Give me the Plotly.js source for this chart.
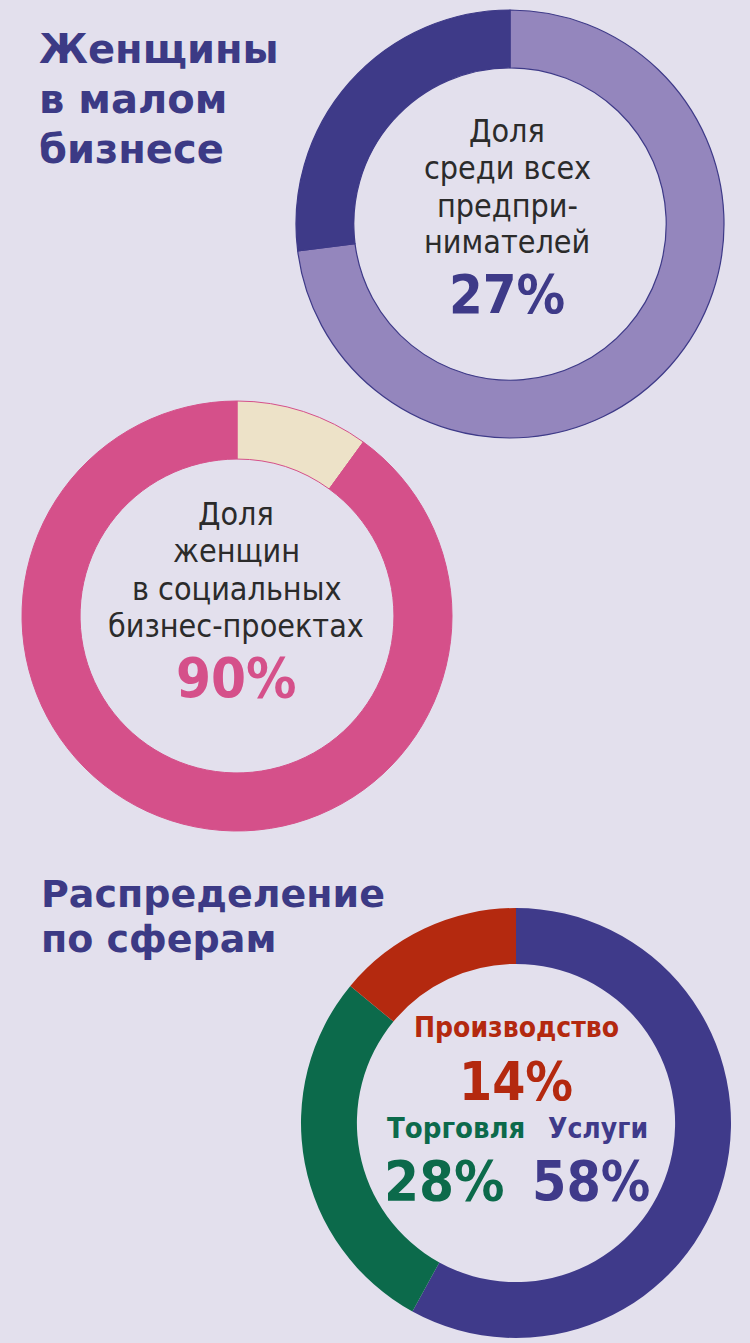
<!DOCTYPE html>
<html>
<head>
<meta charset="utf-8">
<script src="https://cdn.plot.ly/plotly-3.0.1.min.js"></script>
<style>html,body{margin:0;padding:0;background:#e3e0ed;}#chart{width:750px;height:1343px;}</style>
</head>
<body>
<div id="chart"></div>
<script>
// Data
const shareLabels = ['Мужчины', 'Женщины'];
const shareValues = [73, 27];
const socialLabels = ['Прочие', 'Женщины'];
const socialValues = [10, 90];
const sphereLabels = ['Услуги', 'Торговля', 'Производство'];
const sphereValues = [58, 28, 14];
const title1Lines = ['Женщины', 'в малом', 'бизнесе'];
const title2Lines = ['Распределение', 'по сферам'];

const W = 750, H = 1343;
const BG = '#e3e0ed';
const TFONT = 'DejaVu Sans, sans-serif';
const BFONT = 'DejaVu Sans Condensed, DejaVu Sans, sans-serif';
const px = x => x / W;
const py = y => 1 - y / H;
function dom(cx, cy, r) {
  return {x: [px(cx - r), px(cx + r)], y: [py(cy + r), py(cy - r)]};
}

const pieCommon = {type: 'pie', sort: false, textinfo: 'none', hoverinfo: 'none', showlegend: false, rotation: 0, direction: 'clockwise'};

const traces = [
  Object.assign({}, pieCommon, {
    labels: shareLabels, values: shareValues, hole: 0.73,
    domain: dom(510, 224, 214),
    marker: {colors: ['#9486bd', '#3e3a88'], line: {color: '#3e3a88', width: 1.2}}
  }),
  Object.assign({}, pieCommon, {
    labels: socialLabels, values: socialValues, hole: 0.73,
    domain: dom(237, 616, 215),
    marker: {colors: ['#ede2c8', '#d5508a'], line: {color: '#d5508a', width: 1}}
  }),
  Object.assign({}, pieCommon, {
    labels: sphereLabels, values: sphereValues, hole: 0.74,
    domain: dom(516, 1123, 215),
    marker: {colors: ['#3f3a8a', '#0c6a4b', '#b4290f'], line: {color: BG, width: 0}}
  })
];

const ann = [];
// place a single-line text by its baseline
function t(text, x, base, size, color, bold, family, anchor) {
  ann.push({text: bold ? '<b>' + text + '</b>' : text, x: px(x), y: py(base - 0.35 * size), xref: 'paper', yref: 'paper',
    xanchor: anchor || 'center', yanchor: 'middle', showarrow: false,
    font: {family: family || BFONT, size: size, color: color}});
}

const TITLE = '#3c3a85';
title1Lines.forEach((l, i) => t(l, 37, 63 + 50 * i, 40, TITLE, true, TFONT, 'left'));
title2Lines.forEach((l, i) => t(l, 39, 907 + 45 * i, 38, TITLE, true, TFONT, 'left'));

const GRAY = '#2b2b2b';
t('Доля', 507, 142, 32, GRAY, false);
t('среди всех', 507, 179, 32, GRAY, false);
t('предпри-', 507, 217, 32, GRAY, false);
t('нимателей', 507, 253, 32, GRAY, false);
t(shareValues[1] + '%', 507, 313, 54, '#3e3a88', true);

t('Доля', 236, 525, 32, GRAY, false);
t('женщин', 236, 562, 32, GRAY, false);
t('в социальных', 236, 600, 32, GRAY, false);
t('бизнес-проектах', 236, 637, 32, GRAY, false);
t(socialValues[1] + '%', 236, 697, 56, '#d5508a', true);

t(sphereLabels[2], 516, 1037, 28, '#b4290f', true);
t(sphereValues[2] + '%', 516, 1100, 53, '#b4290f', true);
t(sphereLabels[1], 456, 1138, 29, '#0c6a4b', true);
t(sphereLabels[0], 598, 1138, 28, '#3f3a8a', true);
t(sphereValues[1] + '%', 444, 1200, 56, '#0c6a4b', true);
t(sphereValues[0] + '%', 591, 1200, 55, '#3f3a8a', true);

const layout = {
  width: W, height: H, margin: {l: 0, r: 0, t: 0, b: 0},
  paper_bgcolor: BG, plot_bgcolor: BG,
  annotations: ann, showlegend: false
};
Plotly.newPlot('chart', traces, layout, {displayModeBar: false, staticPlot: true});
</script>
</body>
</html>
